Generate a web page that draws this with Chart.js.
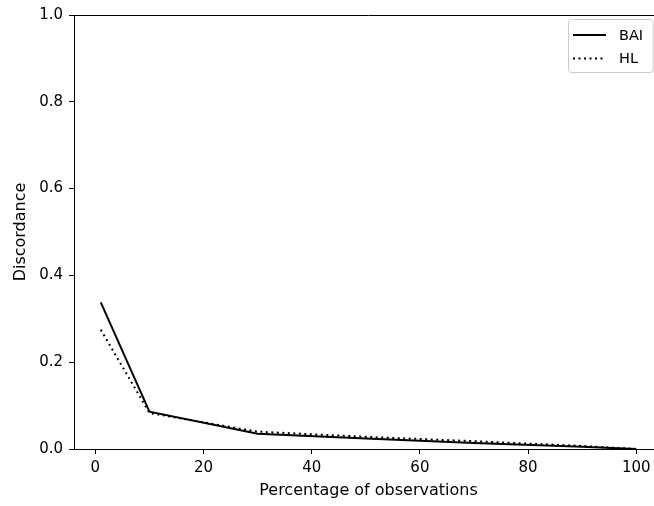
<!DOCTYPE html>
<html>
<head>
<meta charset="utf-8">
<script src="https://cdn.jsdelivr.net/npm/chart.js@4.4.0/dist/chart.umd.min.js"></script>
<style>
  html, body { margin: 0; padding: 0; background: #fff; overflow: hidden; }
  #wrap { width: 654px; height: 506px; overflow: hidden; }
  canvas { display: block; }
</style>
</head>
<body>
<div id="wrap"><canvas id="chart" width="663" height="506"></canvas></div>
<script>
// values
const percentages = [1, 10, 30, 50, 70, 90, 100];
const baiValues = [0.338, 0.086, 0.035, 0.024, 0.014, 0.005, 0.0];
const hlValues  = [0.275, 0.083, 0.040, 0.028, 0.018, 0.007, 0.0];
const xTicks = [0, 20, 40, 60, 80, 100];
const yTicks = [0, 0.2, 0.4, 0.6, 0.8, 1.0];

const FONT = "'DejaVu Sans', sans-serif";

function toPoints(ys) {
  return percentages.map((x, i) => ({ x: x, y: ys[i] }));
}

// top spine + matplotlib-style legend in the upper right
const frameAndLegend = {
  id: 'frameAndLegend',
  afterDraw(chart) {
    const c = chart.ctx;
    const a = chart.chartArea;
    c.save();
    c.strokeStyle = '#000';
    c.lineWidth = 1;
    c.beginPath();
    c.moveTo(a.left, a.top + 0.5);
    c.lineTo(a.right, a.top + 0.5);
    c.stroke();

    // legend box
    const bx = 568.5, by = 19.5, bw = 84.5, bh = 53, r = 3;
    c.fillStyle = 'rgba(255,255,255,0.8)';
    c.strokeStyle = '#cccccc';
    c.beginPath();
    c.moveTo(bx + r, by);
    c.lineTo(bx + bw - r, by);
    c.arcTo(bx + bw, by, bx + bw, by + r, r);
    c.lineTo(bx + bw, by + bh - r);
    c.arcTo(bx + bw, by + bh, bx + bw - r, by + bh, r);
    c.lineTo(bx + r, by + bh);
    c.arcTo(bx, by + bh, bx, by + bh - r, r);
    c.lineTo(bx, by + r);
    c.arcTo(bx, by, bx + r, by, r);
    c.closePath();
    c.fill();
    c.stroke();

    const rows = [35, 58.5];
    chart.data.datasets.forEach((ds, i) => {
      c.strokeStyle = ds.borderColor;
      c.lineWidth = ds.borderWidth;
      c.setLineDash(ds.borderDash || []);
      c.beginPath();
      c.moveTo(573, rows[i]);
      c.lineTo(606, rows[i]);
      c.stroke();
      c.setLineDash([]);
      c.fillStyle = '#000';
      c.font = '14.5px ' + FONT;
      c.textBaseline = 'middle';
      c.textAlign = 'left';
      c.fillText(ds.label, 619, rows[i] + 1);
    });
    c.restore();
  }
};

new Chart(document.getElementById('chart'), {
  type: 'line',
  data: {
    datasets: [
      {
        label: 'BAI',
        data: toPoints(baiValues),
        borderColor: '#000',
        borderWidth: 2,
        pointRadius: 0,
        tension: 0,
        fill: false
      },
      {
        label: 'HL',
        data: toPoints(hlValues),
        borderColor: '#000',
        borderWidth: 2,
        borderDash: [2, 3.5],
        borderCapStyle: 'butt',
        pointRadius: 0,
        tension: 0,
        fill: false
      }
    ]
  },
  options: {
    responsive: false,
    animation: false,
    layout: { padding: { top: 13, right: 0, left: 0, bottom: 0 } },
    plugins: {
      legend: { display: false },
      tooltip: { enabled: false }
    },
    scales: {
      x: {
        type: 'linear',
        min: -3.95,
        max: 104.95,
        afterBuildTicks: (axis) => { axis.ticks = xTicks.map(v => ({ value: v })); },
        afterFit: (axis) => { axis.height = 57; },
        border: { color: '#000', width: 1 },
        grid: { drawOnChartArea: false, drawTicks: true, tickLength: 5, tickColor: '#000' },
        ticks: { color: '#000', font: { family: FONT, size: 15 }, padding: 5, maxRotation: 0 },
        title: {
          display: true,
          text: 'Percentage of observations',
          color: '#000',
          font: { family: FONT, size: 16 },
          padding: { top: 0, bottom: 5.4 }
        }
      },
      y: {
        type: 'linear',
        min: 0,
        max: 1,
        afterBuildTicks: (axis) => { axis.ticks = yTicks.map(v => ({ value: v })); },
        afterFit: (axis) => { axis.width = 74; },
        border: { color: '#000', width: 1 },
        grid: { drawOnChartArea: false, drawTicks: true, tickLength: 5, tickColor: '#000' },
        ticks: {
          color: '#000',
          font: { family: FONT, size: 15 },
          padding: 6,
          callback: (v) => Number(v).toFixed(1)
        },
        title: {
          display: true,
          text: 'Discordance',
          color: '#000',
          font: { family: FONT, size: 16 },
          padding: { top: 11.4, bottom: 0 }
        }
      }
    }
  },
  plugins: [frameAndLegend]
});
</script>
</body>
</html>
